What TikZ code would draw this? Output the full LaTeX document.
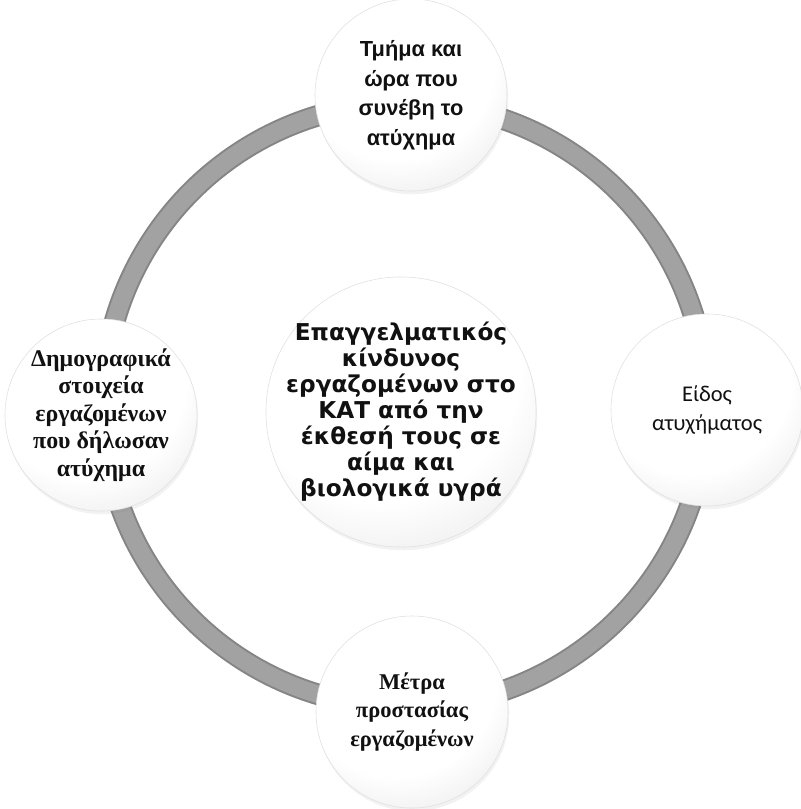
\documentclass[tikz,border=0pt]{standalone}
\usepackage{fontspec}
\usepackage{tikz}
\usetikzlibrary{shadows}
\setmainfont{Liberation Serif}
\newfontfamily\hubfont{DejaVu Sans}
\newfontfamily\headfont{Liberation Sans}
\newfontfamily\kindfont{Carlito}
\definecolor{ringgray}{HTML}{A2A2A2}
\definecolor{ringedge}{HTML}{858585}
\definecolor{rim}{HTML}{E0E0E0}
\definecolor{ink}{HTML}{111111}
\pgfdeclareradialshading{bubbleshade}{\pgfpoint{-6bp}{14bp}}{%
  color(0bp)=(white); color(26bp)=(white);
  color(50bp)=(black!15); color(75bp)=(black!15)}

\begin{document}
\begin{tikzpicture}[x=0.025cm,y=-0.025cm,
  bubble/.style={circle,shading=bubbleshade,draw=rim,thin,
    minimum size=4.8cm,
    drop shadow={opacity=0.1,shadow xshift=0.3mm,shadow yshift=-0.8mm}},
  hub/.style={bubble,minimum size=6.75cm},
  txt/.style={align=center,text=ink,inner sep=0pt},
  ring/.style={line width=#1}
]
\useasboundingbox[fill=white] (0,0) rectangle (801,809);
\coordinate (ctr) at (405,405);
% the grey ring behind the bubbles
\draw[ring=0.54cm,ringedge] (ctr) circle[radius=7.55cm];
\draw[ring=0.44cm,ringgray] (ctr) circle[radius=7.55cm];

\node[bubble] (place) at (411,95) {};
\node[bubble] (demo) at (101,415) {};
\node[bubble] (kind) at (707,410) {};
\node[bubble] (guard) at (412,712) {};
\node[hub] (risk) at (401,412) {};

\node[txt,font=\headfont\bfseries\fontsize{15.5}{21}\selectfont] (place-t) at (place)
  {Τμήμα και\\ώρα που\\συνέβη το\\ατύχημα};
\node[txt,font=\bfseries\fontsize{17}{19.5}\selectfont] (demo-t) at (demo)
  {Δημογραφικά\\στοιχεία\\εργαζομένων\\που δήλωσαν\\ατύχημα};
\node[txt,font=\kindfont\fontsize{16}{21}\selectfont] (kind-t) at (kind)
  {Είδος\\ατυχήματος};
\node[txt,font=\bfseries\fontsize{16}{20}\selectfont] (guard-t) at (guard)
  {Μέτρα\\προστασίας\\εργαζομένων};
\node[txt,font=\hubfont\bfseries\fontsize{16.5}{18.5}\selectfont] (risk-t) at (risk)
  {Επαγγελματικός\\κίνδυνος\\εργαζομένων στο\\ΚΑΤ από την\\έκθεσή τους σε\\αίμα και\\βιολογικά υγρά};
\end{tikzpicture}
\end{document}
